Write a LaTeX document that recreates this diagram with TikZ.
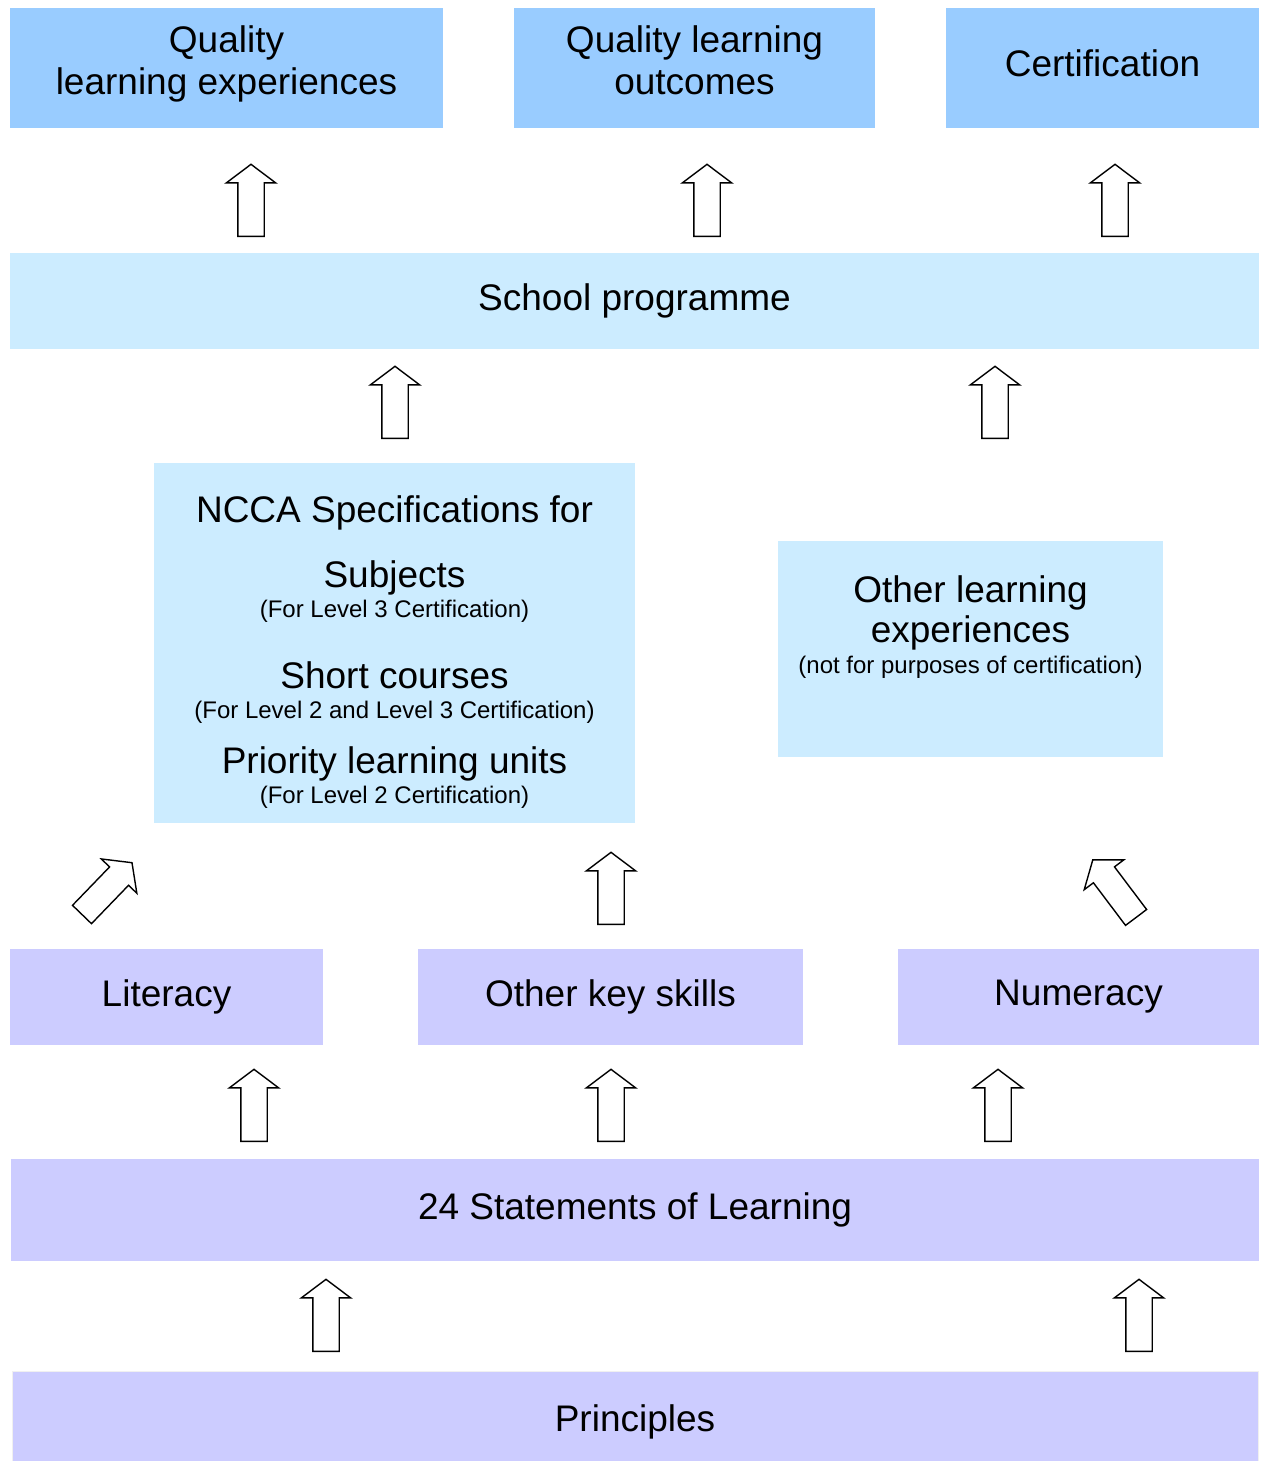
\documentclass[tikz,border=0pt]{standalone}
\usepackage{fontspec}
\setmainfont{Liberation Sans}
\usetikzlibrary{shapes.arrows}

\definecolor{bleu}{HTML}{99CCFF}
\definecolor{ciel}{HTML}{CCECFF}
\definecolor{mauve}{HTML}{CCCCFF}

\begin{document}
\begin{tikzpicture}[x=0.5pt, y=-0.5pt]
			\tikzset{boite/.style={rectangle, inner sep=0pt, align=center, font=\fontsize{18.5}{21}\selectfont},
			fleche/.style={single arrow, draw=black, fill=white, line width=0.7pt, minimum height=36pt, minimum width=24pt,
				inner xsep=0pt, inner ysep=6.25pt, single arrow head extend=5.75pt, single arrow tip angle=106,
				single arrow head indent=0pt, anchor=tail},
			grand/.style={anchor=base, font=\fontsize{18.5}{21}\selectfont},
			petit/.style={anchor=base, font=\fontsize{12}{14}\selectfont}};

			\useasboundingbox (0, 0) rectangle (1263, 1461);

			\node[boite, fill=bleu, minimum width=216.5pt, minimum height=60pt] (qle) at (226.5, 68) {};
			\node[grand] (q1) at (226.5, 53) {Quality};
			\node[grand] (q2) at (226.5, 95) {learning experiences};
			\node[boite, fill=bleu, minimum width=180.5pt, minimum height=60pt] (qlo) at (694.5, 68) {};
			\node[grand] (q3) at (694.5, 53) {Quality learning};
			\node[grand] (q4) at (694.5, 95) {outcomes};
			\node[boite, fill=bleu, minimum width=156.5pt, minimum height=60pt] (cert) at (1102.5, 68) {};
			\node[grand] (q5) at (1102.5, 77) {Certification};

			\node[boite, fill=ciel, minimum width=624.5pt, minimum height=48pt] (prog) at (634.5, 301) {School programme};

			\node[boite, fill=ciel, minimum width=240.5pt, minimum height=180pt] (ncca) at (394.5, 643) {};
			\node[grand] (n1) at (394.5, 522) {NCCA Specifications for};
			\node[grand] (n2) at (394.5, 587) {Subjects};
			\node[petit] (n3) at (394.5, 617) {(For Level 3 Certification)};
			\node[grand] (n4) at (394.5, 688) {Short courses};
			\node[petit] (n5) at (394.5, 718) {(For Level 2 and Level 3 Certification)};
			\node[grand] (n6) at (394.5, 773) {Priority learning units};
			\node[petit] (n7) at (394.5, 803) {(For Level 2 Certification)};

			\node[boite, fill=ciel, minimum width=192.5pt, minimum height=108pt] (autre) at (970.5, 649) {};
			\node[grand] (a1) at (970.5, 602) {Other learning};
			\node[grand] (a2) at (970.5, 642) {experiences};
			\node[petit] (a3) at (970.5, 673) {(not for purposes of certification)};

			\node[boite, fill=mauve, minimum width=156.5pt, minimum height=48pt] (lit) at (166.5, 997) {Literacy};
			\node[boite, fill=mauve, minimum width=192.5pt, minimum height=48pt] (cles) at (610.5, 997) {Other key skills};
			\node[boite, fill=mauve, minimum width=180.5pt, minimum height=48pt] (num) at (1078.5, 997) {Numeracy};

			\node[boite, fill=mauve, minimum width=624pt, minimum height=51pt] (enonces) at (635, 1210) {24 Statements of Learning};
			\node[boite, fill=mauve, draw=gray!12, minimum width=623pt, minimum height=45pt] (princ) at (635, 1416) {};
			\node[grand] (pr) at (635, 1431) {Principles};

			\foreach \x in {251, 707, 1115}{
				\node[fleche, rotate=90] (h\x) at (\x, 237) {};
			}
			\foreach \x in {395, 995}{
				\node[fleche, rotate=90] (p\x) at (\x, 439) {};
			}
			\node[fleche, rotate=46] (dg) at (81.5, 915) {};
			\node[fleche, rotate=90] (mil) at (611, 925) {};
			\node[fleche, rotate=127] (dd) at (1136.5, 918) {};
			\foreach \x in {254, 611, 998}{
				\node[fleche, rotate=90] (s\x) at (\x, 1142) {};
			}
			\foreach \x in {326, 1139}{
				\node[fleche, rotate=90] (b\x) at (\x, 1352) {};
			}
		\end{tikzpicture}
\end{document}
